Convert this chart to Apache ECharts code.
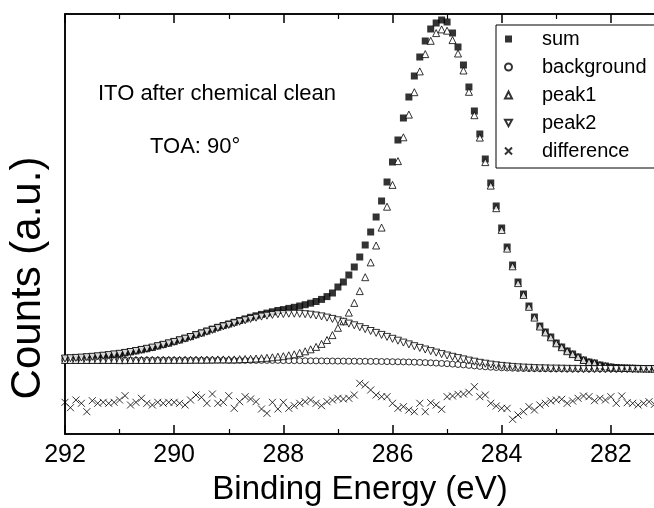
<!DOCTYPE html>
<html>
<head>
<meta charset="utf-8">
<script src="https://cdn.jsdelivr.net/npm/echarts/dist/echarts.min.js"></script>
<style>
  html, body { margin: 0; padding: 0; background: #fff; }
  #chart { width: 654px; height: 508px; }
</style>
</head>
<body>
<div id="chart"></div>
<script>
// binding energy grid, 0.1 eV steps (eV)
const energies = [
  292.0, 291.9, 291.8, 291.7, 291.6, 291.5, 291.4, 291.3, 291.2, 291.1,
  291.0, 290.9, 290.8, 290.7, 290.6, 290.5, 290.4, 290.3, 290.2, 290.1,
  290.0, 289.9, 289.8, 289.7, 289.6, 289.5, 289.4, 289.3, 289.2, 289.1,
  289.0, 288.9, 288.8, 288.7, 288.6, 288.5, 288.4, 288.3, 288.2, 288.1,
  288.0, 287.9, 287.8, 287.7, 287.6, 287.5, 287.4, 287.3, 287.2, 287.1,
  287.0, 286.9, 286.8, 286.7, 286.6, 286.5, 286.4, 286.3, 286.2, 286.1,
  286.0, 285.9, 285.8, 285.7, 285.6, 285.5, 285.4, 285.3, 285.2, 285.1,
  285.0, 284.9, 284.8, 284.7, 284.6, 284.5, 284.4, 284.3, 284.2, 284.1,
  284.0, 283.9, 283.8, 283.7, 283.6, 283.5, 283.4, 283.3, 283.2, 283.1,
  283.0, 282.9, 282.8, 282.7, 282.6, 282.5, 282.4, 282.3, 282.2, 282.1,
  282.0, 281.9, 281.8, 281.7, 281.6, 281.5, 281.4, 281.3, 281.2, 281.1, 281.0
]

const sumCounts = [
  75.5, 75.8, 76.1, 76.4, 76.8, 77.2, 77.7, 78.3, 78.9, 79.6,
  80.2, 81.1, 82.1, 83.1, 84.2, 85.3, 86.5, 88.0, 89.4, 90.8,
  92.4, 94.0, 95.7, 97.4, 99.3, 101.0, 102.9, 104.8, 106.7, 108.4,
  110.0, 111.7, 113.5, 115.1, 116.7, 118.2, 119.6, 120.9, 122.2, 123.5,
  124.4, 125.6, 126.7, 128.0, 129.3, 130.8, 132.5, 134.6, 137.4, 141.0,
  147, 152, 159, 167, 177, 189, 202, 217, 233, 252,
  272, 294, 316, 337, 358, 377, 393, 405, 411, 414,
  412, 401, 387, 369, 347, 323, 300, 275, 251, 228,
  206, 187, 169, 152, 140, 128, 117, 108, 102, 97,
  91, 87, 83, 80, 77, 74, 72, 71, 69, 68,
  67, 66.5, 66.2, 66.0, 65.8, 65.6, 65.5, 65.4, 65.3, 65.2, 65.2
]

const backgroundCounts = [
  74.0, 74.0, 74.0, 74.0, 74.0, 74.0, 74.0, 74.0, 74.0, 74.0,
  73.9, 73.9, 73.9, 73.9, 73.9, 73.9, 73.9, 73.9, 73.9, 73.9,
  73.8, 73.8, 73.8, 73.8, 73.8, 73.8, 73.8, 73.8, 73.8, 73.8,
  73.6, 73.6, 73.6, 73.6, 73.6, 73.6, 73.6, 73.6, 73.6, 73.6,
  73.4, 73.4, 73.3, 73.3, 73.2, 73.2, 73.1, 73.1, 73.0, 73.0,
  72.9, 72.9, 72.8, 72.8, 72.7, 72.7, 72.6, 72.6, 72.5, 72.4,
  72.3, 72.2, 72.1, 72.0, 71.8, 71.6, 71.4, 71.2, 70.9, 70.6,
  70.3, 69.9, 69.5, 69.1, 68.6, 68.1, 67.6, 67.2, 66.8, 66.5,
  66.2, 66.0, 65.8, 65.6, 65.5, 65.4, 65.3, 65.2, 65.2, 65.1,
  65.1, 65.1, 65.0, 65.0, 65.0, 65.0, 65.0, 65.0, 65.0, 65.0,
  65.0, 65.0, 65.0, 65.0, 65.0, 65.0, 65.0, 65.0, 65.0, 65.0, 65.0
]

const peak1Counts = [
  74.0, 74.0, 74.0, 74.0, 74.0, 74.0, 74.0, 74.0, 74.0, 74.0,
  73.9, 73.9, 74.0, 74.0, 74.0, 74.0, 74.0, 74.1, 74.1, 74.1,
  74.1, 74.1, 74.2, 74.2, 74.3, 74.3, 74.4, 74.5, 74.6, 74.6,
  74.6, 74.6, 74.8, 75.0, 75.2, 75.5, 75.8, 76.2, 76.7, 77.3,
  77.8, 78.7, 79.7, 81.1, 82.7, 84.7, 87.1, 90.1, 94.0, 98.9,
  106.2, 112.7, 121.4, 131.1, 142.9, 156.8, 171.6, 188.5, 206.4, 227.3,
  249.1, 272.9, 296.7, 319.4, 341.8, 362.6, 379.9, 393.2, 400.9, 404.6,
  403.3, 393.9, 380.5, 363.5, 342.2, 318.8, 296.4, 271.9, 248.4, 225.8,
  204.1, 185.4, 167.7, 150.9, 139.1, 127.2, 116.4, 107.5, 101.6, 96.7,
  90.7, 86.8, 82.8, 79.9, 77.0, 74.0, 72.0, 71.0, 69.0, 68.0,
  67.0, 66.5, 66.2, 66.0, 65.8, 65.6, 65.5, 65.4, 65.3, 65.2, 65.2
]

const peak2Counts = [
  75.5, 75.8, 76.1, 76.4, 76.8, 77.2, 77.7, 78.3, 78.9, 79.6,
  80.2, 81.1, 82.0, 83.0, 84.1, 85.2, 86.4, 87.8, 89.2, 90.6,
  92.1, 93.7, 95.3, 97.0, 98.8, 100.5, 102.3, 104.1, 105.9, 107.6,
  109.1, 110.7, 112.3, 113.7, 115.1, 116.3, 117.4, 118.3, 119.1, 119.8,
  120.0, 120.3, 120.3, 120.2, 119.8, 119.3, 118.5, 117.6, 116.4, 115.1,
  113.7, 112.2, 110.4, 108.7, 106.8, 104.9, 103.0, 101.1, 99.1, 97.1,
  95.2, 93.3, 91.4, 89.6, 87.8, 86.1, 84.5, 82.9, 81.4, 79.9,
  78.5, 77.2, 75.9, 74.6, 73.4, 72.3, 71.2, 70.3, 69.4, 68.7,
  68.1, 67.6, 67.1, 66.7, 66.4, 66.2, 65.9, 65.7, 65.6, 65.4,
  65.4, 65.3, 65.2, 65.1, 65.1, 65.0, 65.0, 65.0, 65.0, 65.0,
  65.0, 65.0, 65.0, 65.0, 65.0, 65.0, 65.0, 65.0, 65.0, 65.0, 65.0
]

const differenceCounts = [
  31.7, 26.3, 34.0, 30.7, 22.3, 33.3, 30.7, 31.7, 30.7, 31.7,
  34.0, 38.3, 29.0, 31.7, 35.7, 30.7, 29.0, 31.7, 30.7, 31.7,
  31.7, 30.7, 29.0, 34.0, 39.0, 36.7, 30.7, 40.0, 30.7, 31.7,
  38.3, 25.7, 32.3, 37.3, 35.0, 32.3, 25.0, 20.7, 31.7, 25.0,
  31.7, 25.7, 28.3, 30.7, 32.3, 34.0, 30.7, 28.3, 32.3, 34.0,
  35.7, 35.0, 35.7, 39.0, 50.7, 49.0, 44.0, 39.0, 37.3, 37.3,
  30.7, 25.7, 27.3, 24.0, 22.3, 30.7, 22.3, 31.3, 29.0, 24.7,
  37.3, 38.0, 39.7, 40.0, 41.7, 47.3, 37.3, 39.0, 30.7, 28.0,
  25.7, 25.7, 14.7, 19.0, 22.3, 27.3, 24.0, 29.0, 30.7, 33.0,
  34.0, 34.7, 30.7, 33.0, 35.7, 38.0, 37.3, 33.3, 35.7, 34.0,
  37.3, 30.7, 38.0, 31.3, 30.7, 29.0, 30.7, 32.3, 29.7, 26.7, 34.0
]

const xTicks = [280, 282, 284, 286, 288, 290, 292]

const font = '"Liberation Sans", Arial, Helvetica, sans-serif'

const pairs = (vals) => energies.map((e, i) => [e, vals[i]])

const chart = echarts.init(document.getElementById('chart'), null, { renderer: 'canvas' })

const xCommon = {
  type: 'value',
  inverse: true,
  min: xTicks[0],
  max: xTicks[xTicks.length - 1],
  interval: 2,
  axisLine: { show: true, onZero: false, lineStyle: { color: '#000', width: 1.5 } },
  axisTick: { show: true, inside: true, length: 9, lineStyle: { color: '#000', width: 1.5 } },
  minorTick: { show: true, splitNumber: 2, length: 5, lineStyle: { color: '#000', width: 1.2 } },
  splitLine: { show: false }
}

const openStyle = { color: '#fff', borderColor: '#000', borderWidth: 1 }

const option = {
  animation: false,
  backgroundColor: '#fff',
  grid: {
    left: 65,
    top: 14,
    width: 655,
    height: 420,
    containLabel: false,
    outerBoundsMode: 'none',
    show: true,
    borderColor: '#000',
    borderWidth: 1.5,
    backgroundColor: 'transparent'
  },
  xAxis: [
    Object.assign({}, xCommon, {
      position: 'bottom',
      axisLabel: {
        show: true,
        margin: 9,
        color: '#000',
        fontSize: 25,
        fontFamily: font
      }
    }),
    Object.assign({}, xCommon, {
      position: 'top',
      axisLabel: { show: false }
    })
  ],
  yAxis: {
    type: 'value',
    min: 0,
    max: 420,
    axisLine: { show: true, lineStyle: { color: '#000', width: 1.5 } },
    axisTick: { show: false },
    axisLabel: { show: false },
    splitLine: { show: false }
  },
  legend: {
    orient: 'vertical',
    left: 496,
    top: 25,
    padding: [4, 60, 7, 8],
    itemWidth: 7,
    itemHeight: 7,
    itemGap: 8,
    borderColor: '#000',
    borderWidth: 1,
    backgroundColor: '#fff',
    selectedMode: false,
    textStyle: { color: '#000', fontSize: 20, fontFamily: font, padding: [0, 0, 0, 25] },
    data: [
      'sum',
      'background',
      'peak1',
      { name: 'peak2', icon: 'path://M0,0L10,0L5,9Z' },
      'difference'
    ]
  },
  graphic: [
    {
      type: 'text', left: 98, top: 83,
      style: { text: 'ITO after chemical clean', fill: '#000', font: '22px ' + font }
    },
    {
      type: 'text', left: 150, top: 136,
      style: { text: 'TOA: 90°', fill: '#000', font: '22px ' + font }
    },
    {
      type: 'text', x: 28, y: 278, rotation: Math.PI / 2,
      style: { text: 'Counts (a.u.)', fill: '#000', font: '42px ' + font, align: 'center', verticalAlign: 'middle' }
    },
    {
      type: 'text', x: 360, y: 490,
      style: { text: 'Binding Energy (eV)', fill: '#000', font: '33px ' + font, align: 'center', verticalAlign: 'middle' }
    }
  ],
  series: [
    {
      name: 'sum', type: 'scatter', symbol: 'rect', symbolSize: 7,
      itemStyle: { color: '#000' },
      data: pairs(sumCounts)
    },
    {
      name: 'background', type: 'scatter', symbol: 'circle', symbolSize: 6,
      itemStyle: openStyle,
      data: pairs(backgroundCounts)
    },
    {
      name: 'peak1', type: 'scatter', symbol: 'triangle', symbolSize: 7,
      itemStyle: openStyle,
      data: pairs(peak1Counts)
    },
    {
      name: 'peak2', type: 'scatter', symbol: 'triangle', symbolSize: 7, symbolRotate: 180,
      itemStyle: openStyle,
      data: pairs(peak2Counts)
    },
    {
      name: 'difference', type: 'scatter', symbol: 'path://M0,0L8,8M0,8L8,0', symbolSize: 7,
      itemStyle: { color: 'transparent', borderColor: '#000', borderWidth: 1 },
      data: pairs(differenceCounts)
    }
  ]
}

chart.setOption(option)
</script>
</body>
</html>
